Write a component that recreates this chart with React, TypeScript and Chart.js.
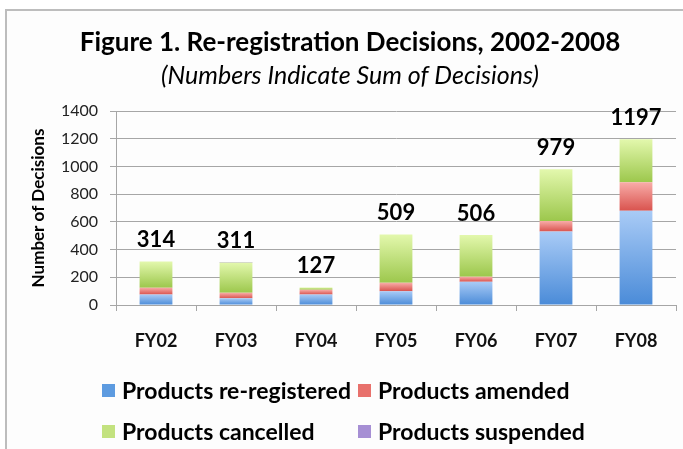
import React, { useEffect, useRef } from "react";
import { Chart, registerables } from "chart.js";

Chart.register(...registerables);

const categories = ["FY02", "FY03", "FY04", "FY05", "FY06", "FY07", "FY08"];
const reRegistered = [75, 48, 75, 100, 168, 530, 680];
const amended = [50, 40, 35, 60, 36, 76, 205];
const cancelled = [189, 218, 17, 349, 302, 373, 312];
const suspended = [0, 5, 0, 0, 0, 0, 0];
const totalLabels = [314, 311, 127, 509, 506, 979, 1197];
const yTicks = [0, 200, 400, 600, 800, 1000, 1200, 1400];

const seriesNames = [
  "Products re-registered",
  "Products amended",
  "Products cancelled",
  "Products suspended",
];
const FONT = "Lato";

const palette = [
  { top: "#a9cbf6", bottom: "#4a8bd8", legend: "#5d9be0" },
  { top: "#f8aca8", bottom: "#d9534e", legend: "#e8716c" },
  { top: "#e3f8ad", bottom: "#9cc74c", legend: "#c3e27f" },
  { top: "#b9a8e0", bottom: "#8a70c4", legend: "#a68fd4" },
];

const seriesData = [reRegistered, amended, cancelled, suspended];

function gradientFor(datasetIndex: number) {
  return (ctx: any) => {
    const chart = ctx.chart;
    const y = chart.scales && chart.scales.y;
    const col = palette[datasetIndex];
    if (!y || ctx.type !== "data") return col.bottom;
    const i = ctx.dataIndex;
    let base = 0;
    for (let d = 0; d < datasetIndex; d++) base += seriesData[d][i];
    const top = base + seriesData[datasetIndex][i];
    const y0 = y.getPixelForValue(base);
    const y1 = y.getPixelForValue(top);
    if (!isFinite(y0) || !isFinite(y1) || y0 === y1) return col.bottom;
    const g = chart.ctx.createLinearGradient(0, y1, 0, y0);
    g.addColorStop(0, col.top);
    g.addColorStop(1, col.bottom);
    return g;
  };
}

const decorPlugin = {
  id: "decor",
  beforeDraw(chart: any) {
    const c = chart.ctx;
    c.save();
    c.fillStyle = "#ffffff";
    c.fillRect(0, 0, chart.width, chart.height);
    c.fillStyle = "#fdfdfd";
    c.fillRect(6, 10, chart.width - 6, chart.height - 10);
    c.fillStyle = "#bdbdbd";
    c.fillRect(5, 9, chart.width - 5, 2);
    c.fillRect(5, 9, 2, chart.height - 9);
    c.restore();
  },
  afterDraw(chart: any) {
    const c = chart.ctx;
    const area = chart.chartArea;
    const x = chart.scales.x;
    const y = chart.scales.y;
    c.save();
    // titles
    c.fillStyle = "#000";
    c.textAlign = "center";
    c.textBaseline = "middle";
    c.font = `bold 26px ${FONT}`;
    c.fillText("Figure 1. Re-registration Decisions, 2002-2008", 350, 43);
    c.font = `italic 25px ${FONT}`;
    c.fillText("(Numbers Indicate Sum of Decisions)", 350, 76);
    // y title
    c.save();
    c.translate(39, (area.top + area.bottom) / 2);
    c.rotate(-Math.PI / 2);
    c.font = `bold 17px ${FONT}`;
    c.fillText("Number of Decisions", 0, 0);
    c.restore();
    // totals
    c.font = `bold 22px ${FONT}`;
    c.textBaseline = "alphabetic";
    totalLabels.forEach((t, i) => {
      const px = x.getPixelForValue(i);
      const py = y.getPixelForValue(t);
      c.fillText(String(t), px, py - 14);
    });
    // legend
    c.textAlign = "left";
    c.textBaseline = "middle";
    c.font = `bold 23px ${FONT}`;
    const cols = [102, 358];
    const rows = [391, 432];
    seriesNames.forEach((name, i) => {
      const bx = cols[i % 2];
      const by = rows[Math.floor(i / 2)];
      c.fillStyle = palette[i].legend;
      c.fillRect(bx, by - 7, 13, 13);
      c.fillStyle = "#000";
      c.fillText(name, bx + 20, by + 1);
    });
    c.restore();
  },
};

export default function App() {
  const ref = useRef<HTMLCanvasElement>(null);
  useEffect(() => {
    if (!ref.current) return;
    const chart = new Chart(ref.current, {
      type: "bar",
      data: {
        labels: categories,
        datasets: seriesData.map((d, i) => ({
          label: seriesNames[i],
          data: d,
          backgroundColor: gradientFor(i),
          borderWidth: 0,
          categoryPercentage: 1,
          barPercentage: 0.41,
        })),
      },
      options: {
        responsive: false,
        animation: false,
        layout: { padding: { top: 111, left: 0, right: 7, bottom: 94 } },
        plugins: {
          legend: { display: false },
          tooltip: { enabled: false },
          title: { display: false },
        },
        scales: {
          x: {
            stacked: true,
            offset: true,
            grid: {
              drawOnChartArea: false,
              drawTicks: true,
              tickLength: 6,
              color: "#a6a6a6",
              offset: true,
            },
            border: { color: "#a6a6a6" },
            ticks: {
              font: { family: FONT, size: 18, weight: "bold" },
              color: "#111",
              padding: 19,
            },
            afterFit: (s: any) => {
              s.height = 50;
            },
          },
          y: {
            stacked: true,
            min: 0,
            max: yTicks[yTicks.length - 1],
            afterBuildTicks: (s: any) => {
              s.ticks = yTicks.map((v) => ({ value: v }));
            },
            grid: { color: "#a6a6a6", tickLength: 6 },
            border: { color: "#a6a6a6" },
            ticks: {
              font: { family: FONT, size: 16 },
              color: "#222",
              padding: 12,
              callback: (v: any) => String(v),
            },
            afterFit: (s: any) => {
              s.width = 116;
            },
          },
        },
      },
      plugins: [decorPlugin],
    } as any);
    return () => chart.destroy();
  }, []);
  return (
    <div style={{ position: "fixed", left: 0, top: 0, width: 683, height: 449 }}>
      <canvas ref={ref} width={683} height={449} style={{ display: "block" }} />
    </div>
  );
}
